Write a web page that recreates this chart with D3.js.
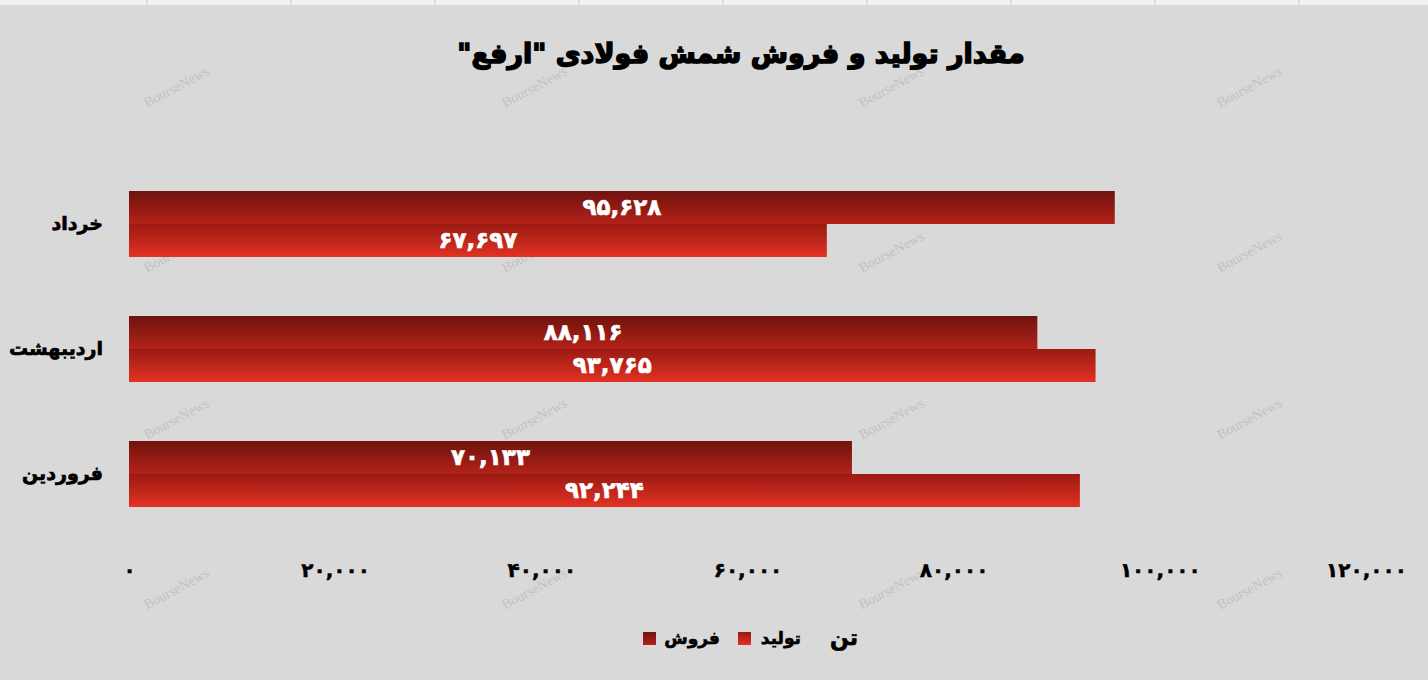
<!DOCTYPE html>
<html><head><meta charset="utf-8">
<script src="https://cdn.jsdelivr.net/npm/d3@7"></script>
<style>
html,body{margin:0;padding:0;background:#d9d9d9;}
svg{display:block;}
</style></head>
<body>
<svg id="c" width="1428" height="680"></svg>
<script>
const categories = ["خرداد", "اردیبهشت", "فروردین"];
const salesValues = [95628, 88116, 70133];       // فروش
const productionValues = [67697, 93765, 92244];  // تولید
const seriesNames = ["فروش", "تولید"];
const xTicks = [0, 20000, 40000, 60000, 80000, 100000, 120000];
const title = 'مقدار تولید و فروش شمش فولادی "ارفع"';
const unitLabel = "تن";

const fa = n => d3.format(",")(n).replace(/[0-9]/g, d => "۰۱۲۳۴۵۶۷۸۹"[+d]);
const svg = d3.select("#c");
const W = 1428, H = 680;
svg.append("rect").attr("width", W).attr("height", H).attr("fill", "#d9d9d9");
// top spreadsheet strip
svg.append("rect").attr("width", W).attr("height", 5).attr("fill", "#f2f2f2");
[147, 291, 435, 579, 723, 867, 1011, 1155, 1299].forEach(x =>
  svg.append("line").attr("x1", x).attr("x2", x).attr("y1", 0).attr("y2", 5).attr("stroke", "#c8c8c8"));

const defs = svg.append("defs");
const g1 = defs.append("linearGradient").attr("id", "gs").attr("x1", 0).attr("x2", 0).attr("y1", 0).attr("y2", 1);
g1.append("stop").attr("offset", "0%").attr("stop-color", "#6f130d");
g1.append("stop").attr("offset", "100%").attr("stop-color", "#b3221a");
const g2 = defs.append("linearGradient").attr("id", "gp").attr("x1", 0).attr("x2", 0).attr("y1", 0).attr("y2", 1);
g2.append("stop").attr("offset", "0%").attr("stop-color", "#9a1a12");
g2.append("stop").attr("offset", "100%").attr("stop-color", "#e33224");

const x = d3.scaleLinear().domain([0, 120000]).range([129, 1366]);
const y = d3.scaleBand().domain(categories).range([161.5, 536.5]).paddingInner(0.472).paddingOuter(0.236);
const sub = d3.scaleBand().domain(seriesNames).range([0, y.bandwidth()]);

const font = "'DejaVu Sans', sans-serif";

// watermarks
const wmX = [177, 535, 892, 1250], wmY = [88, 253, 420, 590];
wmY.forEach(yy => wmX.forEach(xx => {
  svg.append("text").attr("transform", `translate(${xx},${yy}) rotate(-28)`)
    .attr("text-anchor", "middle").attr("dominant-baseline", "middle")
    .attr("font-family", "'Liberation Serif', serif").attr("font-size", 14)
    .attr("fill", "#c2c2c2").text("BourseNews");
}));

// title
svg.append("text").attr("x", 741).attr("y", 63).attr("text-anchor", "middle")
  .attr("font-family", font).attr("font-weight", "bold").attr("font-size", 27)
  .attr("stroke", "#000").attr("stroke-width", 1.5)
  .attr("direction", "rtl").attr("fill", "#000").text(title);

// bars
const rows = categories.map((c, i) => ({c, vals: [salesValues[i], productionValues[i]]}));
const grp = svg.selectAll("g.cat").data(rows).join("g").attr("class", "cat")
  .attr("transform", d => `translate(0,${y(d.c)})`);
grp.selectAll("rect").data(d => d.vals.map((v, k) => ({v, s: seriesNames[k], k}))).join("rect")
  .attr("x", x(0)).attr("y", d => sub(d.s)).attr("height", sub.bandwidth())
  .attr("width", d => x(d.v) - x(0)).attr("fill", d => d.k === 0 ? "url(#gs)" : "url(#gp)");
grp.selectAll("text.val").data(d => d.vals.map((v, k) => ({v, s: seriesNames[k]}))).join("text")
  .attr("class", "val").attr("x", d => (x(0) + x(d.v)) / 2).attr("y", d => sub(d.s) + sub.bandwidth() / 2 + 1)
  .attr("text-anchor", "middle").attr("dominant-baseline", "middle")
  .attr("font-family", font).attr("font-weight", "bold").attr("font-size", 23).attr("fill", "#fff")
  .attr("stroke", "#fff").attr("stroke-width", 0.6)
  .text(d => fa(d.v));

// category labels
svg.selectAll("text.cat").data(categories).join("text").attr("class", "cat")
  .attr("x", 103).attr("y", d => y(d) + y.bandwidth() / 2).attr("text-anchor", "end")
  .attr("dominant-baseline", "middle")
  .attr("font-family", font).attr("font-weight", "bold").attr("font-size", 19)
  .attr("stroke", "#000").attr("stroke-width", 0.7).text(d => d);

// x axis
const ax = svg.append("g").attr("transform", "translate(0,560)")
  .call(d3.axisBottom(x).tickValues(xTicks).tickSize(0).tickFormat(fa));
ax.select(".domain").remove();
ax.selectAll("text").attr("font-family", font).attr("font-weight", "bold").attr("font-size", 20).attr("fill", "#000")
  .attr("stroke", "#000").attr("stroke-width", 0.5).attr("dy", "0.35em").attr("y", 10);

// legend
svg.append("text").attr("x", 858).attr("y", 645).attr("text-anchor", "end")
  .attr("font-family", font).attr("font-weight", "bold").attr("font-size", 22)
  .attr("stroke", "#000").attr("stroke-width", 0.7).text(unitLabel);
const leg = [{s: "تولید", f: "url(#gp)", sx: 738, tx: 801}, {s: "فروش", f: "url(#gs)", sx: 643, tx: 720}];
leg.forEach(l => {
  svg.append("rect").attr("x", l.sx).attr("y", 632).attr("width", 13).attr("height", 13).attr("fill", l.f);
  svg.append("text").attr("x", l.tx).attr("y", 644).attr("text-anchor", "end")
    .attr("font-family", font).attr("font-weight", "bold").attr("font-size", 17)
    .attr("stroke", "#000").attr("stroke-width", 0.6).text(l.s);
});
</script>
</body></html>
